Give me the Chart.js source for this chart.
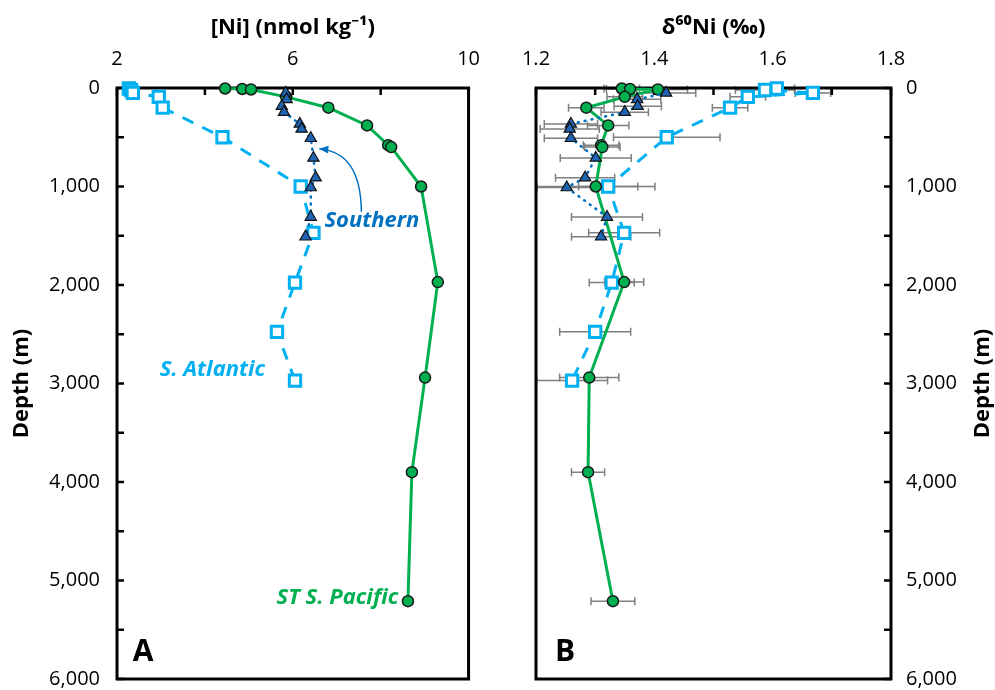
<!DOCTYPE html>
<html>
<head>
<meta charset="utf-8">
<script src="https://cdn.jsdelivr.net/npm/chart.js@4"></script>
<style>
    body { margin: 0; background: #fff; }
    #wrapA { position: absolute; left: 0; top: 0; width: 497px; height: 690px; }
    #wrapB { position: absolute; left: 497px; top: 0; width: 498px; height: 690px; }
</style>
</head>
<body>
<div id="wrapA"><canvas id="chartA"></canvas></div>
<div id="wrapB"><canvas id="chartB"></canvas></div>
<script>
// ST S. Pacific (green circles)
const pacDepth = [5, 10, 15, 90, 200, 380, 580, 600, 1000, 1970, 2940, 3900, 5210];
const pacNi = [4.46, 4.85, 5.05, 5.85, 6.81, 7.69, 8.17, 8.24, 8.92, 9.30, 9.01, 8.71, 8.62];
const pacD60 = [1.345, 1.359, 1.406, 1.350, 1.285, 1.322, 1.310, 1.312, 1.301, 1.349, 1.290, 1.288, 1.330];
const pacErr = [0.03, 0.04, 0.05, 0.03, 0.03, 0.035, 0.03, 0.03, 0.1, 0.033, 0.05, 0.028, 0.037];

// S. Atlantic (open squares)
const atlDepth = [5, 20, 50, 90, 200, 500, 1000, 1470, 1975, 2475, 2970];
const atlNi = [2.27, 2.32, 2.36, 2.95, 3.04, 4.40, 6.18, 6.47, 6.05, 5.64, 6.05];
const atlD60 = [1.607, 1.587, 1.668, 1.558, 1.528, 1.421, 1.322, 1.349, 1.328, 1.300, 1.261];
const atlErr = [0.03, 0.05, 0.03, 0.03, 0.03, 0.09, 0.05, 0.06, 0.038, 0.06, 0.06];

// Southern Ocean (triangles)
const souDepth = [50, 115, 185, 245, 365, 415, 510, 710, 910, 1010, 1310, 1510];
const souNi = [5.84, 5.86, 5.75, 5.80, 6.16, 6.20, 6.41, 6.47, 6.52, 6.41, 6.41, 6.29];
const souD60 = [1.420, 1.371, 1.372, 1.350, 1.259, 1.257, 1.259, 1.301, 1.283, 1.252, 1.320, 1.310];
const souErr = [0.05, 0.04, 0.04, 0.04, 0.045, 0.05, 0.045, 0.06, 0.05, 0.05, 0.06, 0.05];

// tick labels
const depthLabels = [0, 1000, 2000, 3000, 4000, 5000, 6000];
const niLabels = [2, 6, 10];
const d60Labels = [1.2, 1.4, 1.6, 1.8];

const FONT = '"Open Sans", "Noto Sans", sans-serif';
const GREEN = '#00b050';
const LBLUE = '#00b0f0';
const DBLUE = '#0070c0';

function pts(xs, ys) {
    return xs.map((v, i) => ({ x: v, y: ys[i] }));
}

function hasLabel(list, v) {
    return list.some(l => Math.abs(l - v) < 1e-6);
}

function datasets(pac, atl, sou) {
    return [
        {
            label: 'Southern', data: pts(sou, souDepth), showLine: true, order: 0, clip: false,
            borderColor: DBLUE, borderWidth: 2.5, borderDash: [1, 6], borderCapStyle: 'round',
            pointStyle: 'triangle', pointRadius: 6.5, pointBackgroundColor: '#1f64b4',
            pointBorderColor: '#111', pointBorderWidth: 1.2
        },
        {
            label: 'ST S. Pacific', data: pts(pac, pacDepth), showLine: true, order: 1, clip: false,
            borderColor: GREEN, borderWidth: 3,
            pointStyle: 'circle', pointRadius: 5.5, pointBackgroundColor: GREEN,
            pointBorderColor: '#1a1a1a', pointBorderWidth: 1.5
        },
        {
            label: 'S. Atlantic', data: pts(atl, atlDepth), showLine: true, order: 2, clip: false,
            borderColor: LBLUE, borderWidth: 3, borderDash: [12, 10],
            pointStyle: 'rect', pointRadius: 8, pointBackgroundColor: '#fff',
            pointBorderColor: LBLUE, pointBorderWidth: 3
        }
    ];
}

const decor = {
    id: 'decor',
    beforeDatasetsDraw(chart, args, o) {
        const { ctx, chartArea: a } = chart;
        const xs = chart.scales.x, ys = chart.scales.y;
        ctx.save();
        // error bars
        ctx.strokeStyle = '#7f7f7f';
        ctx.lineWidth = 1.5;
        (o.errors || []).forEach(e => {
            e.x.forEach((v, i) => {
                const y = ys.getPixelForValue(e.y[i]);
                const x0 = xs.getPixelForValue(v - e.err[i]);
                const x1 = xs.getPixelForValue(v + e.err[i]);
                ctx.beginPath();
                ctx.moveTo(x0, y); ctx.lineTo(x1, y);
                ctx.moveTo(x0, y - 4); ctx.lineTo(x0, y + 4);
                ctx.moveTo(x1, y - 4); ctx.lineTo(x1, y + 4);
                ctx.stroke();
            });
        });
        // frame and inside ticks
        ctx.strokeStyle = '#000';
        ctx.lineWidth = 3;
        ctx.strokeRect(a.left, a.top, a.right - a.left, a.bottom - a.top);
        ctx.lineWidth = 2.5;
        xs.ticks.forEach((t, i) => {
            const x = xs.getPixelForTick(i);
            ctx.beginPath(); ctx.moveTo(x, a.top); ctx.lineTo(x, a.top + 7); ctx.stroke();
        });
        const x0 = o.yRight ? a.right : a.left;
        const dir = o.yRight ? -1 : 1;
        ys.ticks.forEach((t, i) => {
            const y = ys.getPixelForTick(i);
            ctx.beginPath(); ctx.moveTo(x0, y); ctx.lineTo(x0 + dir * 7, y); ctx.stroke();
        });
        ctx.restore();
    },
    afterDraw(chart, args, o) {
        const { ctx, chartArea: a } = chart;
        const xs = chart.scales.x, ys = chart.scales.y;
        ctx.save();
        ctx.fillStyle = '#000';
        ctx.textBaseline = 'middle';
        // axis titles
        ctx.font = 'bold 22px ' + FONT;
        ctx.textAlign = 'center';
        ctx.fillText(o.xTitle, (a.left + a.right) / 2, 28);
        ctx.save();
        ctx.translate(o.yTitleX, (a.top + a.bottom) / 2);
        ctx.rotate(-Math.PI / 2);
        ctx.fillText('Depth (m)', 0, 0);
        ctx.restore();
        // annotations
        (o.labels || []).forEach(l => {
            ctx.font = l.font + ' ' + FONT;
            ctx.fillStyle = l.color;
            ctx.textAlign = l.align;
            ctx.fillText(l.text, xs.getPixelForValue(l.x), ys.getPixelForValue(l.y));
        });
        if (o.arrow) {
            const p = o.arrow;
            const P = q => [xs.getPixelForValue(q[0]), ys.getPixelForValue(q[1])];
            const [sx, sy] = P(p.from), [cx, cy] = P(p.ctrl), [ex, ey] = P(p.to);
            ctx.strokeStyle = DBLUE;
            ctx.fillStyle = DBLUE;
            ctx.lineWidth = 1.5;
            ctx.beginPath();
            ctx.moveTo(sx, sy);
            ctx.quadraticCurveTo(cx, cy, ex, ey);
            ctx.stroke();
            const ang = Math.atan2(ey - cy, ex - cx);
            ctx.beginPath();
            ctx.moveTo(ex, ey);
            ctx.lineTo(ex - 10 * Math.cos(ang - 0.4), ey - 10 * Math.sin(ang - 0.4));
            ctx.lineTo(ex - 10 * Math.cos(ang + 0.4), ey - 10 * Math.sin(ang + 0.4));
            ctx.closePath();
            ctx.fill();
        }
        ctx.restore();
    }
};

Chart.register(decor);

function depthAxis(position, width, pad) {
    return {
        type: 'linear', position: position, reverse: true, min: 0, max: 6000,
        grid: { display: false, drawTicks: false }, border: { display: false },
        afterFit: s => { s.width = width; s.paddingTop = 0; s.paddingBottom = 0; },
        ticks: {
            stepSize: 500, autoSkip: false, padding: pad, color: '#000',
            font: { family: FONT, size: 20 },
            callback: v => hasLabel(depthLabels, v) ? Number(v).toLocaleString('en-US') : ''
        }
    };
}

function topAxis(min, max, step, labels, digits) {
    return {
        type: 'linear', position: 'top', min: min, max: max,
        grid: { display: false, drawTicks: false }, border: { display: false },
        afterFit: s => { s.height = 88; },
        ticks: {
            stepSize: step, autoSkip: false, padding: 17, color: '#000', maxRotation: 0,
            font: { family: FONT, size: 20 },
            callback: v => hasLabel(labels, v) ? Number(v).toFixed(digits) : ''
        }
    };
}

new Chart(document.getElementById('chartA'), {
    type: 'scatter',
    data: { datasets: datasets(pacNi, atlNi, souNi) },
    options: {
        responsive: true, maintainAspectRatio: false, animation: false,
        layout: { padding: { left: 0, right: 26, top: 0, bottom: 10 } },
        plugins: {
            legend: { display: false }, tooltip: { enabled: false },
            decor: {
                xTitle: '[Ni] (nmol kg\u207B\u00B9)', yTitleX: 22, yRight: false,
                labels: [
                    { text: 'Southern', x: 6.72, y: 1350, color: DBLUE, font: 'italic bold 22px', align: 'left' },
                    { text: 'S. Atlantic', x: 2.97, y: 2860, color: LBLUE, font: 'italic bold 22px', align: 'left' },
                    { text: 'ST S. Pacific', x: 8.40, y: 5170, color: GREEN, font: 'italic bold 22px', align: 'right' },
                    { text: 'A', x: 2.36, y: 5730, color: '#000', font: 'bold 30px', align: 'left' }
                ],
                arrow: { from: [7.56, 1257], ctrl: [7.55, 650], to: [6.60, 618] }
            }
        },
        scales: {
            x: topAxis(2, 10, 2, niLabels, 0),
            y: depthAxis('left', 117, 17)
        }
    }
});

new Chart(document.getElementById('chartB'), {
    type: 'scatter',
    data: { datasets: datasets(pacD60, atlD60, souD60) },
    options: {
        responsive: true, maintainAspectRatio: false, animation: false,
        layout: { padding: { left: 39, right: 0, top: 0, bottom: 10 } },
        plugins: {
            legend: { display: false }, tooltip: { enabled: false },
            decor: {
                xTitle: '\u03B4\u2076\u2070Ni (\u2030)', yTitleX: 486, yRight: true,
                errors: [
                    { x: pacD60, y: pacDepth, err: pacErr },
                    { x: atlD60, y: atlDepth, err: atlErr },
                    { x: souD60, y: souDepth, err: souErr }
                ],
                labels: [
                    { text: 'B', x: 1.232, y: 5730, color: '#000', font: 'bold 30px', align: 'left' }
                ]
            }
        },
        scales: {
            x: topAxis(1.2, 1.8, 0.1, d60Labels, 1),
            y: depthAxis('right', 104, 15)
        }
    }
});
</script>
</body>
</html>
